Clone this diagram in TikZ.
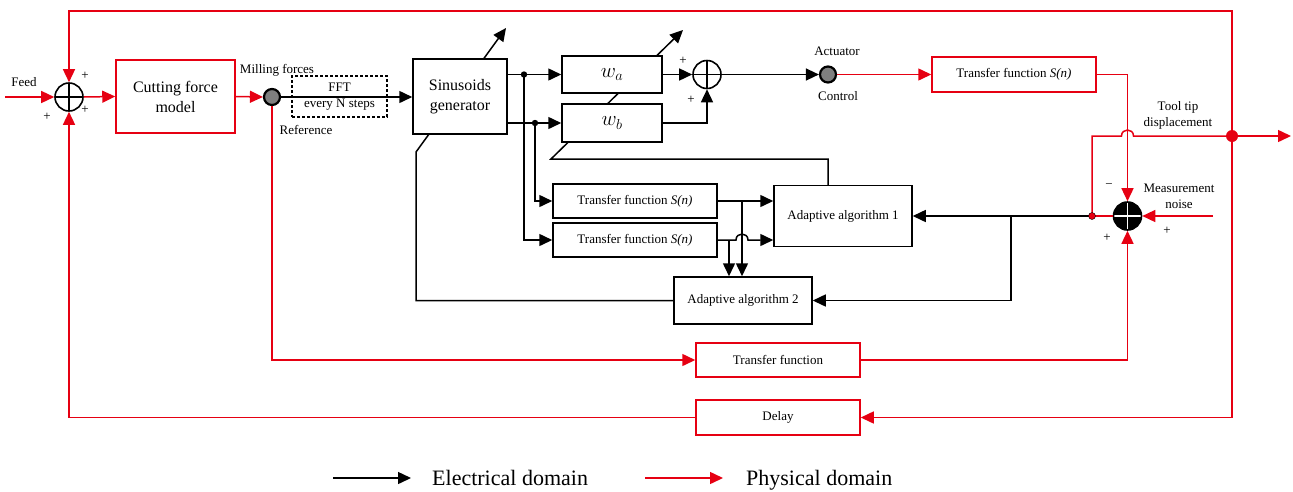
\documentclass[tikz,border=0pt]{standalone}
\usepackage{fontspec}
\setmainfont{Liberation Serif}
\usetikzlibrary{arrows.meta,calc,backgrounds}
\definecolor{mcred}{HTML}{E60012}
\definecolor{mcgrey}{HTML}{7F7F7F}
\tikzset{
  mc small/.style={font=\fontsize{13}{16}\selectfont},
  mc big/.style={font=\fontsize{16}{20}\selectfont},
  mc box/.style={draw, line width=1.5pt, fill=white, align=center, inner sep=0pt, mc small},
  mc red box/.style={mc box, draw=mcred},
  mc fft/.style={draw, line width=1.3pt, dash pattern=on 3pt off 2pt, align=center,
    inner sep=0pt, mc small},
  mc line/.style={line width=1.5pt},
  mc red line/.style={mc line, draw=mcred},
  mc arrow/.style={-{Triangle[length=13pt,width=12pt]}, line width=1.5pt},
  mc red arrow/.style={mc arrow, color=mcred},
  mc sum/.style={circle, draw, line width=1.6pt, minimum size=28pt, inner sep=0pt, fill=white,
    path picture={\draw[line width=1.6pt, #1] (path picture bounding box.north) -- (path picture bounding box.south)
      (path picture bounding box.west) -- (path picture bounding box.east);}},
  mc sum/.default=black,
  mc probe/.style={circle, draw, line width=2.2pt, fill=mcgrey, minimum size=16pt, inner sep=0pt},
  mc label/.style={mc small, inner sep=0pt},
  mc legend/.style={font=\fontsize{22}{26}\selectfont, inner sep=0pt, anchor=base west}
}

\begin{document}
\begin{tikzpicture}[x=1pt, y=-1pt]
  \useasboundingbox (0,0) rectangle (1293,491);
  % blocks
  \node[mc sum] (sum1) at (69,97) {};
  \node[mc red box, mc big, minimum width=119pt, minimum height=73pt] (cfm) at (175.5,96.5) {Cutting force\\model};
  \node[mc probe] (mf) at (272,97) {};
  \node[mc fft, minimum width=95pt, minimum height=41pt] (fft) at (339.5,96.5) {FFT\\every N steps};
  \node[mc box, mc big, minimum width=94pt, minimum height=75pt] (sg) at (460,96.5) {Sinusoids\\generator};
  \node[mc box, font=\fontsize{22}{24}\selectfont, minimum width=100pt, minimum height=37pt] (wa) at (612,74.5) {$w_a$};
  \node[mc box, font=\fontsize{22}{24}\selectfont, minimum width=100pt, minimum height=38pt] (wb) at (612,123) {$w_b$};
  \node[mc sum] (sum2) at (707,74.5) {};
  \node[mc probe] (act) at (828,74.5) {};
  \node[mc red box, minimum width=164pt, minimum height=35pt] (tfs) at (1014,74.5) {Transfer function \textit{S(n)}};
  \node[circle, fill=mcred, minimum size=12pt, inner sep=0pt] (tt) at (1232,136) {};
  \node[mc sum=white, fill=black] (msum) at (1127.5,216) {};
  \node[mc box, minimum width=164pt, minimum height=34pt] (tf1) at (635,201) {Transfer function \textit{S(n)}};
  \node[mc box, minimum width=164pt, minimum height=34pt] (tf2) at (635,240) {Transfer function \textit{S(n)}};
  \node[mc box, minimum width=138pt, minimum height=61pt] (aa1) at (843,216) {Adaptive algorithm 1};
  \node[mc box, minimum width=138pt, minimum height=47pt] (aa2) at (743,300.5) {Adaptive algorithm 2};
  \node[mc red box, minimum width=164pt, minimum height=34pt] (tfb) at (778,360) {Transfer function};
  \node[mc red box, minimum width=164pt, minimum height=35pt] (dl) at (778,417.5) {Delay};
  % junctions
  \coordinate (feed) at (5,97);
  \coordinate (ja) at (524,74.5);
  \coordinate (jb) at (535,123);
  \coordinate (jm) at (1092,216);
  \coordinate (jd) at (1011,216);
  \coordinate (noise) at (1213,216);
  \coordinate (out) at (1291,136);
  \coordinate (topr) at (1232,11);
  \coordinate (b1) at (742,201);
  \coordinate (b2) at (729,240);
  \coordinate (hop1) at (msum.north |- tt);
  \coordinate (hop2) at (b1 |- tf2.east);
  % adaptation lines under the boxes
  \begin{scope}[on background layer]
    \draw[mc arrow] ([xshift=-15pt]aa1.north) |- (551,159) -- (683,30);
    \draw[mc arrow] (aa2.west) -| (416,152) -- (506,28);
  \end{scope}
  % physical domain
  \draw[mc red arrow] (feed) -- (sum1.west);
  \draw[mc red arrow] (sum1.east) -- (cfm.west);
  \draw[mc red arrow] (cfm.east) -- (mf.west);
  \draw[mc red arrow] (act.east) -- (tfs.west);
  \draw[mc red arrow] (tfs.east) -| (msum.north);
  \draw[mc red line] (jm) -- (jm |- tt) -- ($(hop1)+(-6,0)$) .. controls +(0,-8) and +(0,-8) .. ($(hop1)+(6,0)$) -- (tt);
  \draw[mc red arrow] (tt) -- (out);
  \draw[mc red arrow] (tt) -- (topr) -| (sum1.north);
  \draw[mc red arrow] (tt) |- (dl.east);
  \draw[mc red arrow] (dl.west) -| (sum1.south);
  \draw[mc red arrow] (mf.south) |- (tfb.west);
  \draw[mc red arrow] (tfb.east) -| (msum.south);
  \draw[mc red arrow] (noise) -- (msum.east);
  \draw[mc red line] (jm) -- (msum.west);
  % electrical domain
  \draw[mc arrow] (mf.east) -- (sg.west |- mf.east);
  \draw[mc arrow] (sg.east |- wa.west) -- (wa.west);
  \draw[mc arrow] (sg.east |- wb.west) -- (wb.west);
  \draw[mc arrow] (wa.east) -- (sum2.west);
  \draw[mc arrow] (wb.east) -| (sum2.south);
  \draw[mc arrow] (sum2.east) -- (act.west);
  \draw[mc arrow] (ja) |- (tf2.west);
  \draw[mc arrow] (jb) |- (tf1.west);
  \draw[mc arrow] (tf1.east) -- (aa1.west |- tf1.east);
  \draw[mc arrow] (tf2.east) -- ($(hop2)+(-6,0)$) .. controls +(0,-8) and +(0,-8) .. ($(hop2)+(6,0)$) -- (aa1.west |- tf2.east);
  \draw[mc arrow] (b1) -- (b1 |- aa2.north);
  \draw[mc arrow] (b2) -- (b2 |- aa2.north);
  \draw[mc arrow] (jm) -- (aa1.east);
  \draw[mc arrow] (jd) |- (aa2.east);
  \fill (ja) circle (3.2pt);
  \fill (jb) circle (3.2pt);
  \filldraw[fill=mcred, draw=black] (jm) circle (3.5pt);
  % labels
  \node[mc label] (feedlbl) at (24,82) {Feed};
  \node[mc label] (p1) at (85,76) {+};
  \node[mc label] (p2) at (47,117) {+};
  \node[mc label] (p3) at (85,110) {+};
  \node[mc label] (mflbl) at (277,70) {Milling forces};
  \node[mc label] (reflbl) at (306,130) {Reference};
  \node[mc label] (p4) at (683,61) {+};
  \node[mc label] (p5) at (691,100) {+};
  \node[mc label] (actlbl) at (837,51) {Actuator};
  \node[mc label] (ctllbl) at (838,96) {Control};
  \node[mc label, align=center] (ttlbl) at (1178,115) {Tool tip\\displacement};
  \node[mc label] (m1) at (1109,186) {−};
  \node[mc label] (p6) at (1107,238) {+};
  \node[mc label] (p7) at (1167,231) {+};
  \node[mc label, align=center] (noiselbl) at (1179,196) {Measurement\\noise};
  % legend
  \node[mc legend] (lgel) at (432,485) {Electrical domain};
  \draw[mc arrow] ([xshift=-99pt,yshift=7pt]lgel.base west) -- ([xshift=-21pt,yshift=7pt]lgel.base west);
  \node[mc legend] (lgph) at (746,485) {Physical domain};
  \draw[mc red arrow] ([xshift=-101pt,yshift=7pt]lgph.base west) -- ([xshift=-23pt,yshift=7pt]lgph.base west);
\end{tikzpicture}
\end{document}
